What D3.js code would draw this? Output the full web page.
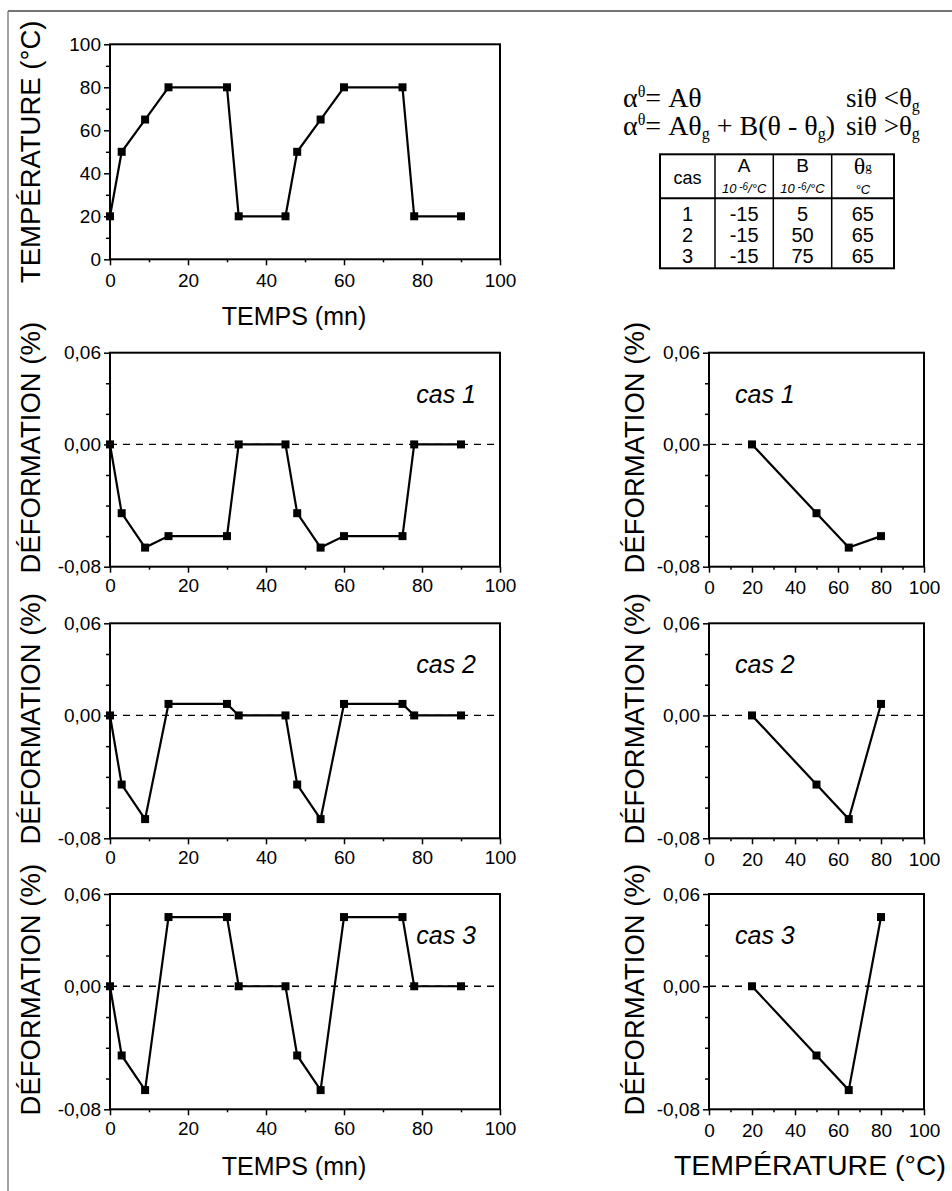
<!DOCTYPE html>
<html>
<head>
<meta charset="utf-8">
<script src="https://cdn.jsdelivr.net/npm/d3@7"></script>
<style>
  body { margin: 0; background: #fff; }
  text { font-family: "Liberation Sans", Arial, sans-serif; fill: #000; }
  .tick text { font-size: 19px; }
  .serif { font-family: "Liberation Serif", "Times New Roman", serif; }
</style>
</head>
<body>
<script>
let width = 952,
    height = 1191;

// cycle thermique
let temps = [0, 3, 9, 15, 30, 33, 45, 48, 54, 60, 75, 78, 90];
let temperature = [20, 50, 65, 80, 80, 20, 20, 50, 65, 80, 80, 20, 20];

// déformation (%) en fonction du temps
let defCas1 = [0, -0.045, -0.0675, -0.06, -0.06, 0, 0, -0.045, -0.0675, -0.06, -0.06, 0, 0];
let defCas2 = [0, -0.045, -0.0675, 0.0075, 0.0075, 0, 0, -0.045, -0.0675, 0.0075, 0.0075, 0, 0];
let defCas3 = [0, -0.045, -0.0675, 0.045, 0.045, 0, 0, -0.045, -0.0675, 0.045, 0.045, 0, 0];

// déformation (%) en fonction de la température
let paliers = [20, 50, 65, 80];
let defTempCas1 = [0, -0.045, -0.0675, -0.06];
let defTempCas2 = [0, -0.045, -0.0675, 0.0075];
let defTempCas3 = [0, -0.045, -0.0675, 0.045];

// ticks
let xTicks = [0, 20, 40, 60, 80, 100];
let xMinor = [10, 30, 50, 70, 90];
let tempTicks = [0, 20, 40, 60, 80, 100];
let tempMinor = [10, 30, 50, 70, 90];
let defTicks = [0.06, 0, -0.08];
let defMinor = [0.04, 0.02, -0.02, -0.04, -0.06];

// tableau des coefficients
let tabCas = ['1', '2', '3'];
let tabA = ['-15', '-15', '-15'];
let tabB = ['5', '50', '75'];
let tabThetaG = ['65', '65', '65'];

let svg = d3.select('body').append('svg')
    .attr('width', width)
    .attr('height', height);

// cadre du scan
svg.append('line').attr('x1', 8).attr('y1', 11).attr('x2', width).attr('y2', 11)
    .attr('stroke', '#444').attr('stroke-width', 1.5);
svg.append('line').attr('x1', 8).attr('y1', 11).attr('x2', 8).attr('y2', height)
    .attr('stroke', '#666').attr('stroke-width', 1.2);

let fmtDef = v => (v < 0 ? '-' : '') + Math.abs(v).toFixed(2).replace('.', ',');

function panel(p) {
    let x = d3.scaleLinear().domain([0, 100]).range([p.left, p.right]);
    let y = d3.scaleLinear().domain(p.ydom).range([p.bottom, p.top]);
    let g = svg.append('g');

    // minor ticks
    g.append('g').attr('transform', `translate(0,${p.bottom})`)
        .call(d3.axisBottom(x).tickValues(xMinor).tickSize(3).tickFormat(''))
        .call(a => a.select('.domain').remove());
    g.append('g').attr('transform', `translate(${p.left},0)`)
        .call(d3.axisLeft(y).tickValues(p.yMinor).tickSize(4).tickFormat(''))
        .call(a => a.select('.domain').remove());

    // major ticks
    g.append('g').attr('transform', `translate(0,${p.bottom})`)
        .call(d3.axisBottom(x).tickValues(xTicks).tickSize(6).tickPadding(p.xPad))
        .call(a => a.select('.domain').remove());
    g.append('g').attr('transform', `translate(${p.left},0)`)
        .call(d3.axisLeft(y).tickValues(p.yTicks).tickSize(6).tickPadding(3).tickFormat(p.yFmt))
        .call(a => a.select('.domain').remove());
    g.selectAll('.tick line').attr('stroke', '#000').attr('stroke-width', 1.5);

    g.append('rect')
        .attr('x', p.left).attr('y', p.top)
        .attr('width', p.right - p.left).attr('height', p.bottom - p.top)
        .attr('fill', 'none').attr('stroke', '#000').attr('stroke-width', 2);

    if (p.zero) {
        g.append('line')
            .attr('x1', p.left).attr('x2', p.right)
            .attr('y1', y(0)).attr('y2', y(0))
            .attr('stroke', '#000').attr('stroke-width', 1.3)
            .attr('stroke-dasharray', '7,6');
    }

    let pts = p.xs.map((v, i) => [v, p.ys[i]]);
    g.append('path')
        .attr('d', d3.line().x(d => x(d[0])).y(d => y(d[1]))(pts))
        .attr('fill', 'none').attr('stroke', '#000').attr('stroke-width', 2.2);
    g.selectAll('rect.pt').data(pts).enter().append('rect')
        .attr('class', 'pt')
        .attr('x', d => x(d[0]) - 4).attr('y', d => y(d[1]) - 4)
        .attr('width', 8).attr('height', 8)
        .attr('fill', '#000');

    if (p.cas) {
        g.append('text')
            .attr('x', p.casAnchor === 'end' ? p.right - 24 : p.left + 26)
            .attr('y', p.top + 50)
            .attr('text-anchor', p.casAnchor)
            .attr('font-size', 25)
            .attr('font-style', 'italic')
            .text(p.cas);
    }

    g.append('text')
        .attr('transform', `translate(${p.yLabelX},${(p.top + p.bottom) / 2 + p.yLabelShift}) rotate(-90)`)
        .attr('text-anchor', 'middle')
        .attr('font-size', 27.5)
        .text(p.yLabel);

    if (p.xLabel) {
        g.append('text')
            .attr('x', p.xLabelX)
            .attr('y', p.bottom + 66)
            .attr('text-anchor', 'middle')
            .attr('font-size', p.xLabelSize)
            .text(p.xLabel);
    }
}

let L = {left: 110, right: 500};
let R = {left: 709, right: 924};
let rows = [{top: 352.7, bottom: 566.7}, {top: 623.3, bottom: 838.3}, {top: 894, bottom: 1109.3}];

// température vs temps
panel({
    left: L.left, right: L.right, top: 44.3, bottom: 259.3,
    ydom: [0, 100], yTicks: tempTicks, yMinor: tempMinor, yFmt: d3.format('d'),
    xs: temps, ys: temperature, zero: false, xPad: 8,
    yLabel: 'TEMPÉRATURE (°C)', yLabelX: 40, yLabelShift: 0,
    xLabel: 'TEMPS (mn)', xLabelX: 294, xLabelSize: 25
});

let defTemps = [defCas1, defCas2, defCas3];
let defTemp = [defTempCas1, defTempCas2, defTempCas3];

rows.forEach((r, i) => {
    panel({
        left: L.left, right: L.right, top: r.top, bottom: r.bottom,
        ydom: [-0.08, 0.06], yTicks: defTicks, yMinor: defMinor, yFmt: fmtDef,
        xs: temps, ys: defTemps[i], zero: true, xPad: 6,
        cas: 'cas ' + (i + 1), casAnchor: 'end',
        yLabel: 'DÉFORMATION (%)', yLabelX: 40, yLabelShift: -12,
        xLabel: i === 2 ? 'TEMPS (mn)' : null, xLabelX: 294, xLabelSize: 25
    });
    panel({
        left: R.left, right: R.right, top: r.top, bottom: r.bottom,
        ydom: [-0.08, 0.06], yTicks: defTicks, yMinor: defMinor, yFmt: fmtDef,
        xs: paliers, ys: defTemp[i], zero: true, xPad: 8,
        cas: 'cas ' + (i + 1), casAnchor: 'start',
        yLabel: 'DÉFORMATION (%)', yLabelX: 644, yLabelShift: -12,
        xLabel: i === 2 ? 'TEMPÉRATURE (°C)' : null, xLabelX: 810, xLabelSize: 28.5
    });
});

// loi de dilatation
let f = svg.append('g');
function formula(yBase, parts, cond) {
    let t = f.append('text').attr('class', 'serif').attr('x', 623).attr('y', yBase);
    parts.forEach(pt => {
        t.append('tspan')
            .attr('baseline-shift', pt.sup ? '60%' : (pt.sub ? '-22%' : null))
            .attr('font-size', pt.sup || pt.sub ? 16 : 28)
            .text(pt.t);
    });
    let c = f.append('text').attr('class', 'serif').attr('x', 846).attr('y', yBase);
    cond.forEach(pt => {
        c.append('tspan')
            .attr('baseline-shift', pt.sub ? '-22%' : null)
            .attr('font-size', pt.sub ? 16 : 27)
            .text(pt.t);
    });
}
formula(107,
    [{t: 'α'}, {t: 'θ', sup: true}, {t: '= Aθ'}],
    [{t: 'siθ <θ'}, {t: 'g', sub: true}]);
formula(135,
    [{t: 'α'}, {t: 'θ', sup: true}, {t: '= Aθ'}, {t: 'g', sub: true}, {t: ' + B(θ - θ'}, {t: 'g', sub: true}, {t: ')'}],
    [{t: 'siθ >θ'}, {t: 'g', sub: true}]);

// tableau
let tab = svg.append('g');
let colX = [660, 715, 773.3, 831.7, 894];
let tabTop = 154.3, tabSep = 198.3, tabBottom = 268.3;
tab.append('rect').attr('x', colX[0]).attr('y', tabTop)
    .attr('width', colX[4] - colX[0]).attr('height', tabBottom - tabTop)
    .attr('fill', 'none').attr('stroke', '#000').attr('stroke-width', 2);
tab.append('line').attr('x1', colX[0]).attr('x2', colX[4]).attr('y1', tabSep).attr('y2', tabSep)
    .attr('stroke', '#000').attr('stroke-width', 2);
colX.slice(1, 4).forEach(cx => {
    tab.append('line').attr('x1', cx).attr('x2', cx).attr('y1', tabTop).attr('y2', tabBottom)
        .attr('stroke', '#000').attr('stroke-width', 1.5);
});
let mid = i => (colX[i] + colX[i + 1]) / 2;
tab.append('text').attr('x', mid(0)).attr('y', 184).attr('text-anchor', 'middle')
    .attr('font-size', 18).text('cas');
tab.append('text').attr('x', mid(1)).attr('y', 172).attr('text-anchor', 'middle')
    .attr('font-size', 19).text('A');
tab.append('text').attr('x', mid(2)).attr('y', 172).attr('text-anchor', 'middle')
    .attr('font-size', 19).text('B');
[1, 2].forEach(i => {
    let u = tab.append('text').attr('x', mid(i)).attr('y', 193).attr('text-anchor', 'middle')
        .attr('font-size', 13).attr('font-style', 'italic');
    u.append('tspan').text('10');
    u.append('tspan').attr('font-size', 10).attr('baseline-shift', '35%').text(' -6');
    u.append('tspan').text('/°C');
});
let tg = tab.append('text').attr('class', 'serif').attr('x', mid(3)).attr('y', 174)
    .attr('text-anchor', 'middle').attr('font-size', 24);
tg.append('tspan').text('θ');
tg.append('tspan').attr('font-size', 13).attr('baseline-shift', '25%').text('g');
tab.append('text').attr('x', mid(3)).attr('y', 194).attr('text-anchor', 'middle')
    .attr('font-size', 13).attr('font-style', 'italic').text('°C');

let rowY = [221, 242, 263];
[tabCas, tabA, tabB, tabThetaG].forEach((col, c) => {
    col.forEach((v, r) => {
        tab.append('text').attr('x', mid(c)).attr('y', rowY[r])
            .attr('text-anchor', 'middle').attr('font-size', 20).text(v);
    });
});
</script>
</body>
</html>
